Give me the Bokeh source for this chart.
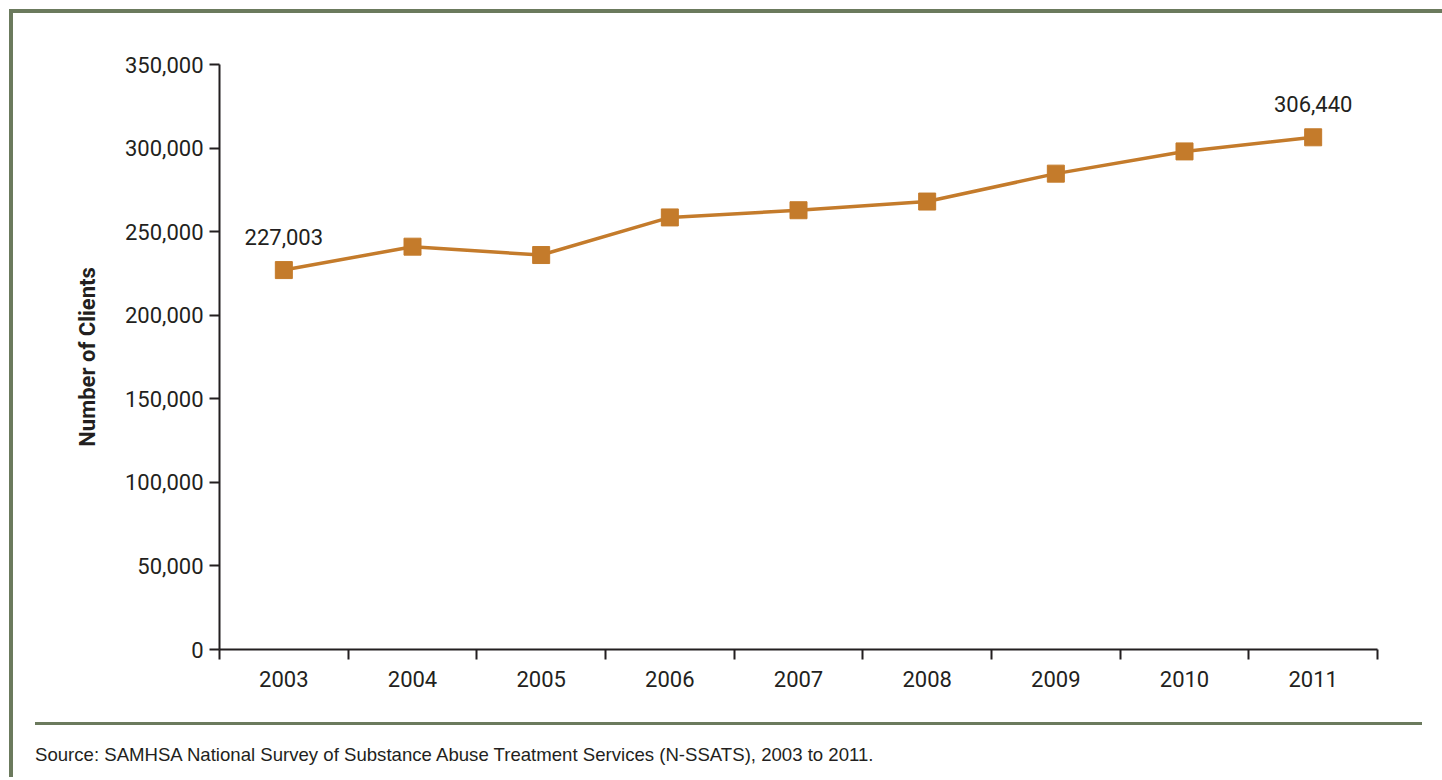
from bokeh.plotting import figure
from bokeh.models import FixedTicker, NumeralTickFormatter, Range1d, Div, ColumnDataSource
from bokeh.layouts import column
from bokeh.core.properties import value
from bokeh.embed import file_html
from bokeh.resources import INLINE

years = ["2003", "2004", "2005", "2006", "2007", "2008", "2009", "2010", "2011"]
clients = [227003, 241000, 236000, 258500, 262800, 268000, 284700, 298000, 306440]
y_ticks = [0, 50000, 100000, 150000, 200000, 250000, 300000, 350000]
source_note = "Source: SAMHSA National Survey of Substance Abuse Treatment Services (N-SSATS), 2003 to 2011."

ORANGE = "#c47b2b"
GREEN = "#6b7a5d"
INK = "#231f20"
NARROW = "Roboto"

xpos = [i + 0.5 for i in range(len(years))]
labels = [f"{v:,}" if i in (0, len(years) - 1) else "" for i, v in enumerate(clients)]
src = ColumnDataSource(dict(x=xpos, y=clients, lab=labels))

p = figure(width=1417, height=687, x_range=Range1d(0, len(years)), y_range=Range1d(y_ticks[0], y_ticks[-1]),
           output_backend="svg", toolbar_location=None,
           min_border_left=206, min_border_right=53, min_border_top=51, min_border_bottom=51)
p.outline_line_color = None
p.xgrid.grid_line_color = None
p.ygrid.grid_line_color = None
p.background_fill_color = "white"
p.border_fill_color = "white"

p.line("x", "y", source=src, line_color=ORANGE, line_width=3.5)
p.scatter("x", "y", source=src, marker="square", size=17, fill_color=ORANGE, line_color=ORANGE)
p.text("x", "y", text="lab", source=src, y_offset=-33, text_align="center", text_baseline="middle",
       text_font=value(NARROW), text_font_size="22px", text_color=INK)

# y axis
ya = p.yaxis[0]
ya.ticker = FixedTicker(ticks=y_ticks)
ya.formatter = NumeralTickFormatter(format="0,0")
ya.axis_line_width = 2
ya.axis_line_color = INK
ya.major_tick_in = 0
ya.major_tick_out = 10
ya.major_tick_line_width = 2
ya.major_tick_line_color = INK
ya.minor_tick_line_color = None
ya.major_label_text_font = NARROW
ya.major_label_text_font_size = "22px"
ya.major_label_text_color = INK
ya.major_label_standoff = 6
ya.axis_label = "Number of Clients"
ya.axis_label_text_font = NARROW
ya.axis_label_text_font_style = "bold"
ya.axis_label_text_font_size = "22px"
ya.axis_label_text_color = INK
ya.axis_label_standoff = 22

# x axis: labels centred in each slot, ticks at slot boundaries
xa = p.xaxis[0]
xa.ticker = FixedTicker(ticks=xpos, minor_ticks=list(range(len(years) + 1)))
xa.major_label_overrides = {x: y for x, y in zip(xpos, years)}
xa.axis_line_width = 2
xa.axis_line_color = INK
xa.major_tick_line_color = None
xa.major_tick_in = 0
xa.major_tick_out = 0
xa.minor_tick_in = 0
xa.minor_tick_out = 10
xa.minor_tick_line_width = 2
xa.minor_tick_line_color = INK
xa.major_label_text_font = NARROW
xa.major_label_text_font_size = "22px"
xa.major_label_text_color = INK
xa.major_label_standoff = 11

note = Div(text=source_note, width=1387, height=50,
           styles={"margin-left": "22px", "margin-top": "22px", "border-top": f"3px solid {GREEN}",
                   "padding-top": "17px", "font-family": "Liberation Sans, Arial, sans-serif",
                   "font-size": "18.6px", "color": INK})

layout = column(p, note, width=1433,
                styles={"border-top": f"4px solid {GREEN}", "border-left": f"4px solid {GREEN}",
                        "margin-left": "9px", "margin-top": "9px", "background": "white"})

open("out.html", "w").write(file_html(layout, INLINE))
